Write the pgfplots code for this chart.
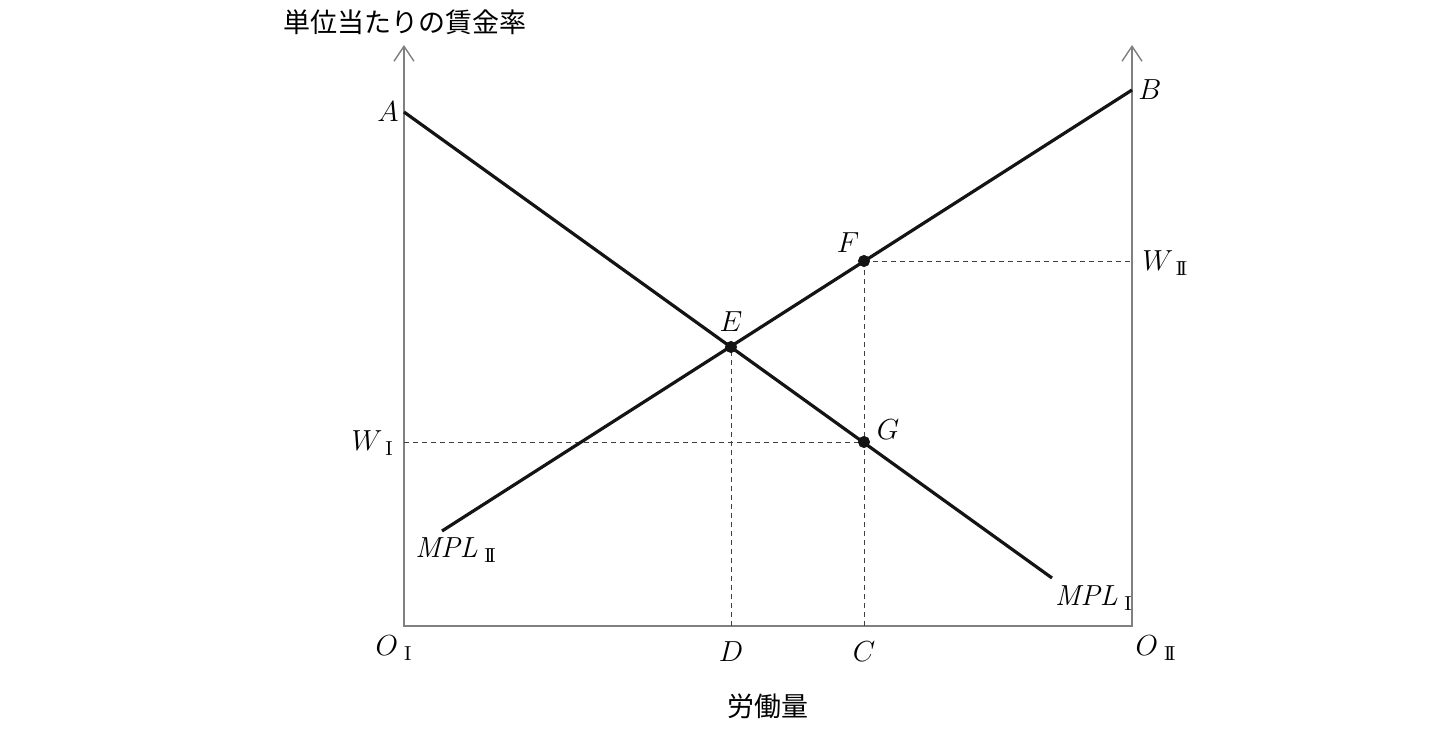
\RequirePackage{fix-cm}
\documentclass[border=0pt]{standalone}
\usepackage{pgfplots}
\pgfplotsset{compat=1.18}
\usetikzlibrary{arrows.meta}
\usepackage{fontspec}
\newfontfamily\cjk{Noto Sans CJK JP}
\newcommand{\RI}{\mathrm{I}}
\newcommand{\RII}{\mathrm{I\!I}}
\begin{document}
\begin{tikzpicture}[every node/.style={font=\fontsize{14.5}{17}\selectfont, inner sep=0pt}]
\begin{axis}[
    scale only axis,
    width=364pt, height=290.5pt,
    xmin=0, xmax=728, ymin=0, ymax=581,
    axis lines=none, clip=false,
]
% page extent (1 unit = 0.5pt)
\path (axis cs:-404,626) rectangle (axis cs:1030,-103);
% the two vertical axes and the base line
\draw[black!50, line width=0.7pt, {Straight Barb[length=7.5pt,width=10pt]}-{Straight Barb[length=7.5pt,width=10pt]}]
    (axis cs:0,581) -- (axis cs:0,0) -- (axis cs:728,0) -- (axis cs:728,581);

% guide lines
\addplot[black!75, line width=0.5pt, dash pattern=on 2.5pt off 2pt] coordinates {(0,184) (460,184)};
\addplot[black!75, line width=0.5pt, dash pattern=on 2.5pt off 2pt] coordinates {(460,0) (460,365)};
\addplot[black!75, line width=0.5pt, dash pattern=on 2.5pt off 2pt] coordinates {(460,365) (728,365)};
\addplot[black!75, line width=0.5pt, dash pattern=on 2.5pt off 2pt] coordinates {(327,0) (327,279)};

% MPL curves
\addplot[black!92, line width=1.6pt] coordinates {(0,514) (648,48)};
\addplot[black!92, line width=1.6pt] coordinates {(38,95) (728,536)};

% E, F, G
\addplot[only marks, mark=*, mark size=2.8pt, black!92] coordinates {(327,279) (460,365) (460,184)};

% labels
\node[font=\fontsize{13.5}{16}\selectfont] at (axis cs:1,604) {\cjk 単位当たりの賃金率};
\node[font=\fontsize{13.5}{16}\selectfont] at (axis cs:364,-80) {\cjk 労働量};
\node at (axis cs:-16,514) {$A$};
\node at (axis cs:746,536) {$B$};
\node at (axis cs:327,304) {$E$};
\node at (axis cs:444,383) {$F$};
\node at (axis cs:484,196) {$G$};
\node[anchor=east] at (axis cs:-10,183) {$W_{\,\,\RI}$};
\node[anchor=west] at (axis cs:738,363) {$W_{\,\,\RII}$};
\node at (axis cs:52,76) {$\mathit{MPL}_{\,\,\RII}$};
\node at (axis cs:690,28) {$\mathit{MPL}_{\,\,\RI}$};
\node at (axis cs:-10,-22) {$O_{\,\,\RI}$};
\node at (axis cs:752,-22) {$O_{\,\,\RII}$};
\node at (axis cs:327,-26) {$D$};
\node at (axis cs:460,-26) {$C$};
\end{axis}
\end{tikzpicture}
\end{document}
